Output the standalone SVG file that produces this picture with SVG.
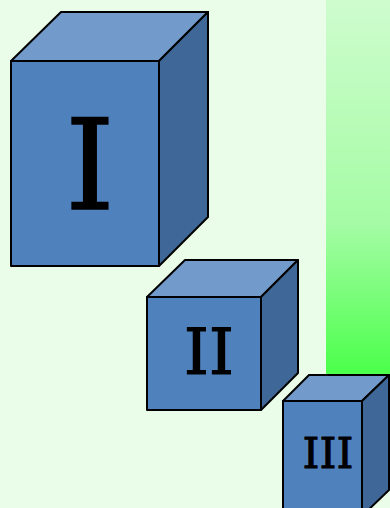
<svg xmlns="http://www.w3.org/2000/svg" width="390" height="508" viewBox="0 0 390 508">
<defs>
<linearGradient id="g" x1="0" y1="0" x2="0" y2="1">
<stop offset="0" stop-color="#cefcce"/>
<stop offset="0.6" stop-color="#a4fca4"/>
<stop offset="1" stop-color="#4aff4a"/>
</linearGradient>
<style>
.f{fill:#4f81bd;stroke:#000;stroke-width:2;stroke-linejoin:round}
.t{fill:#729bcb;stroke:#000;stroke-width:2;stroke-linejoin:round}
.s{fill:#3f6898;stroke:#000;stroke-width:2;stroke-linejoin:round}
.l{font-family:"DejaVu Serif",serif;fill:#000;stroke:#000;text-anchor:middle}
</style>
</defs>
<rect width="390" height="508" fill="#e9fde9"/>
<rect x="326" y="0" width="64" height="375" fill="url(#g)"/>
<g id="box1">
<polygon class="t" points="11,61 61,12 208,12 159,61"/>
<polygon class="s" points="159,61 208,12 208,217 159,266"/>
<rect class="f" x="11" y="61" width="148" height="205"/>
<text class="l" x="90" y="208.5" font-size="125" stroke-width="1.6">I</text>
</g>
<g id="box2">
<polygon class="t" points="147,297 185,260 298,260 261,297"/>
<polygon class="s" points="261,297 298,260 298,373 261,410"/>
<rect class="f" x="147" y="297" width="114" height="113"/>
<text class="l" x="209" y="373.5" font-size="63" stroke-width="1.2">II</text>
</g>
<g id="box3">
<polygon class="t" points="283,401 309,375 389,375 362,401"/>
<polygon class="s" points="362,401 389,375 389,490 362,516"/>
<rect class="f" x="283" y="401" width="79" height="120"/>
<text class="l" x="328" y="467.5" font-size="43" stroke-width="0.9">III</text>
</g>
<g id="connectors"/>
</svg>
